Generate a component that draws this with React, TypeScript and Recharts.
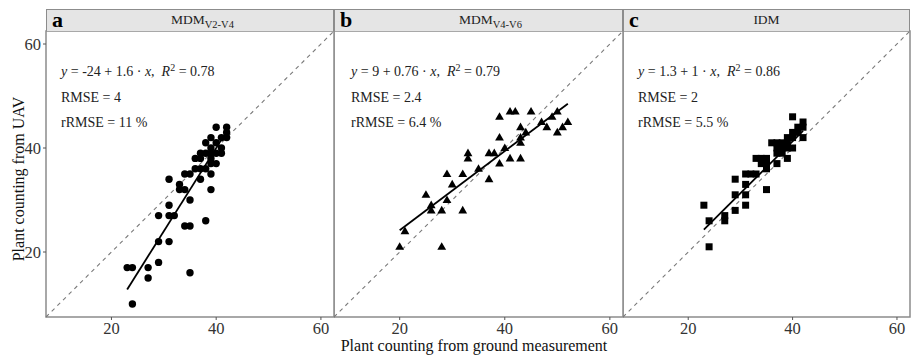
import React from 'react'
import {
  ScatterChart,
  Scatter,
  XAxis,
  YAxis,
  ReferenceLine,
  ReferenceArea,
} from 'recharts'

// ground measurement (x) vs UAV count (y), one pair of arrays per panel
const groundA = [23, 24, 24, 27, 27, 29, 29, 29, 31, 31, 31, 32, 31, 33, 33, 34, 34, 35, 34, 35, 35, 35, 36, 36, 37, 37, 37, 37, 38, 38, 38, 38, 39, 39, 39, 39, 39, 39, 39, 40, 40, 40, 40, 41, 41, 41, 42, 42, 42]
const uavA = [17, 17, 10, 17, 15, 18, 22, 27, 34, 29, 27, 27, 22, 33, 32, 32, 35, 35, 25, 25, 30, 16, 38, 36, 38, 36, 34, 39, 39, 41, 36, 26, 42, 40, 39, 38, 37, 35, 32, 44, 41, 39, 37, 42, 39, 40, 44, 43, 42]

const groundB = [20, 21, 28, 25, 26, 26, 28, 29, 29, 30, 32, 32, 33, 33, 35, 37, 37, 38, 39, 39, 39, 40, 41, 42, 41, 43, 43, 43, 43, 44, 45, 47, 48, 49, 50, 50, 51, 52]
const uavB = [21, 24, 21, 31, 29, 28, 28, 30, 35, 33, 35, 28, 39, 38, 36, 34, 39, 39, 37, 42, 46, 40, 47, 47, 38, 38, 44, 42, 41, 43, 47, 45, 44, 46, 47, 43, 44, 45]

const groundC = [23, 24, 24, 27, 27, 29, 29, 29, 31, 31, 31, 31, 32, 33, 33, 34, 34, 35, 35, 35, 35, 36, 37, 37, 37, 37, 38, 38, 38, 39, 39, 39, 39, 40, 40, 40, 40, 41, 41, 42, 42, 42]
const uavC = [29, 26, 21, 27, 26, 28, 31, 34, 29, 31, 33, 35, 35, 35, 38, 38, 37, 32, 36, 37, 38, 41, 41, 40, 39, 37, 41, 40, 39, 42, 41, 40, 38, 43, 46, 42, 40, 44, 43, 45, 44, 42]

const fitA = { intercept: -24, slope: 1.6 }
const fitB = { intercept: 9, slope: 0.76 }
const fitC = { intercept: 1.3, slope: 1 }

const DOMAIN: [number, number] = [7.5, 62.5]
const TICKS = [20, 40, 60]
const FONT = '"Liberation Serif", "DejaVu Serif", serif'
const BORDER = '#8c8c8c'

const toPoints = (xs: number[], ys: number[]) => xs.map((x, i) => ({ x, y: ys[i] }))

const circleShape = (p: any) => <circle cx={p.cx} cy={p.cy} r={3.7} fill="#000" />
const triangleShape = (p: any) => (
  <path d={`M${p.cx},${p.cy - 4.6}L${p.cx + 4.4},${p.cy + 3}L${p.cx - 4.4},${p.cy + 3}Z`} fill="#000" />
)
const squareShape = (p: any) => <rect x={p.cx - 3.5} y={p.cy - 3.5} width={7} height={7} fill="#000" />

const TOP = 31
const PLOT_H = 286

interface PanelProps {
  left: number
  width: number
  xs: number[]
  ys: number[]
  fit: { intercept: number; slope: number }
  shape: (p: any) => React.ReactElement
  showY: boolean
}

function Panel({ left, width, xs, ys, fit, shape, showY }: PanelProps) {
  const pts = toPoints(xs, ys)
  const x0 = Math.min(...xs)
  const x1 = Math.max(...xs)
  const yAxisW = showY ? 46 : 0
  return (
    <div style={{ position: 'absolute', left: left - yAxisW, top: 0 }}>
      <ScatterChart
        width={yAxisW + width + 2}
        height={TOP + PLOT_H + 40}
        margin={{ top: TOP, right: 2, bottom: 0, left: 0 }}
      >
        <XAxis
          type="number"
          dataKey="x"
          domain={DOMAIN}
          ticks={TICKS}
          allowDataOverflow
          axisLine={false}
          tickSize={3}
          tickMargin={2}
          height={40}
          tickLine={{ stroke: '#555' }}
          tick={{ fill: '#333', fontSize: 16.5, fontFamily: FONT }}
        />
        <YAxis
          type="number"
          dataKey="y"
          domain={DOMAIN}
          ticks={TICKS}
          allowDataOverflow
          hide={!showY}
          width={yAxisW}
          axisLine={false}
          tickSize={3}
          tickMargin={2}
          tickLine={{ stroke: '#555' }}
          tick={{ fill: '#333', fontSize: 16.5, fontFamily: FONT }}
        />
        <ReferenceLine
          segment={[{ x: DOMAIN[0], y: DOMAIN[0] }, { x: DOMAIN[1], y: DOMAIN[1] }]}
          stroke="#7a7a7a"
          strokeDasharray="4 4"
          strokeWidth={1.1}
        />
        <Scatter data={pts} shape={shape} isAnimationActive={false} />
        <ReferenceLine
          segment={[
            { x: x0, y: fit.intercept + fit.slope * x0 },
            { x: x1, y: fit.intercept + fit.slope * x1 },
          ]}
          stroke="#000"
          strokeWidth={1.8}
        />
        <ReferenceArea
          x1={DOMAIN[0]}
          x2={DOMAIN[1]}
          y1={DOMAIN[0]}
          y2={DOMAIN[1]}
          fill="none"
          fillOpacity={0}
          stroke={BORDER}
          strokeWidth={1.5}
        />
      </ScatterChart>
    </div>
  )
}

function Strip({ left, width, tag, children, textLeft }: { left: number; width: number; tag: string; children: React.ReactNode; textLeft?: number }) {
  return (
    <div
      style={{
        position: 'absolute',
        left,
        top: 9,
        width,
        height: 22,
        background: '#e5e5e5',
        boxSizing: 'border-box',
        borderTop: `1.5px solid ${BORDER}`,
        borderLeft: `1.5px solid ${BORDER}`,
        borderRight: `1.5px solid ${BORDER}`,
        fontFamily: FONT,
      }}
    >
      <span style={{ position: 'absolute', left: 5, top: -3, fontSize: 22, fontWeight: 'bold', color: '#000' }}>{tag}</span>
      <span
        style={{
          position: 'absolute',
          left: textLeft ?? 0,
          width: textLeft === undefined ? '100%' : undefined,
          textAlign: textLeft === undefined ? 'center' : undefined,
          top: 2,
          fontSize: 13.5,
          color: '#222',
          whiteSpace: 'nowrap',
        }}
      >
        {children}
      </span>
    </div>
  )
}

function Stats({ left, eq, rmse, rrmse }: { left: number; eq: React.ReactNode; rmse: string; rrmse: string }) {
  const line = (top: number, content: React.ReactNode) => (
    <div style={{ position: 'absolute', left, top: top - 9, height: 18, lineHeight: '18px', fontSize: 14, fontFamily: FONT, color: '#222', whiteSpace: 'nowrap' }}>
      {content}
    </div>
  )
  return (
    <>
      {line(72, eq)}
      {line(98, rmse)}
      {line(123, rrmse)}
    </>
  )
}

const eqText = (a: string, b: string, r2: string) => (
  <>
    <i>y</i> = {a} + {b} · <i>x</i>,&nbsp; <i>R</i>
    <sup style={{ fontSize: 10, verticalAlign: 0, position: 'relative', top: -5 }}>2</sup> = {r2}
  </>
)

const Sub = ({ main, sub }: { main: string; sub: string }) => (
  <>
    {main}
    <span style={{ fontSize: 10.5, position: 'relative', top: 4 }}>{sub}</span>
  </>
)

export default function App() {
  return (
    <div style={{ position: 'absolute', left: 0, top: 0, width: 911, height: 357, background: '#fff', overflow: 'hidden' }}>
      <Panel left={46} width={288} xs={groundA} ys={uavA} fit={fitA} shape={circleShape} showY />
      <Panel left={334} width={289} xs={groundB} ys={uavB} fit={fitB} shape={triangleShape} showY={false} />
      <Panel left={623} width={287} xs={groundC} ys={uavC} fit={fitC} shape={squareShape} showY={false} />

      <Strip left={46} width={288} tag="a" textLeft={124}>
        <Sub main="MDM" sub="V2-V4" />
      </Strip>
      <Strip left={334} width={289} tag="b" textLeft={124}>
        <Sub main="MDM" sub="V4-V6" />
      </Strip>
      <Strip left={623} width={287} tag="c">
        IDM
      </Strip>

      <Stats left={61} eq={eqText('-24', '1.6', '0.78')} rmse="RMSE = 4" rrmse="rRMSE = 11 %" />
      <Stats left={351} eq={eqText('9', '0.76', '0.79')} rmse="RMSE = 2.4" rrmse="rRMSE = 6.4 %" />
      <Stats left={638} eq={eqText('1.3', '1', '0.86')} rmse="RMSE = 2" rrmse="rRMSE = 5.5 %" />

      <div
        style={{
          position: 'absolute',
          left: 19 - 120,
          top: 179 - 10,
          width: 240,
          height: 20,
          lineHeight: '20px',
          textAlign: 'center',
          transform: 'rotate(-90deg)',
          fontFamily: FONT,
          fontSize: 16,
          color: '#111',
        }}
      >
        Plant counting from UAV
      </div>
      <div
        style={{
          position: 'absolute',
          left: 474 - 200,
          top: 336,
          width: 400,
          height: 20,
          lineHeight: '20px',
          textAlign: 'center',
          fontFamily: FONT,
          fontSize: 16,
          color: '#111',
        }}
      >
        Plant counting from ground measurement
      </div>
    </div>
  )
}
